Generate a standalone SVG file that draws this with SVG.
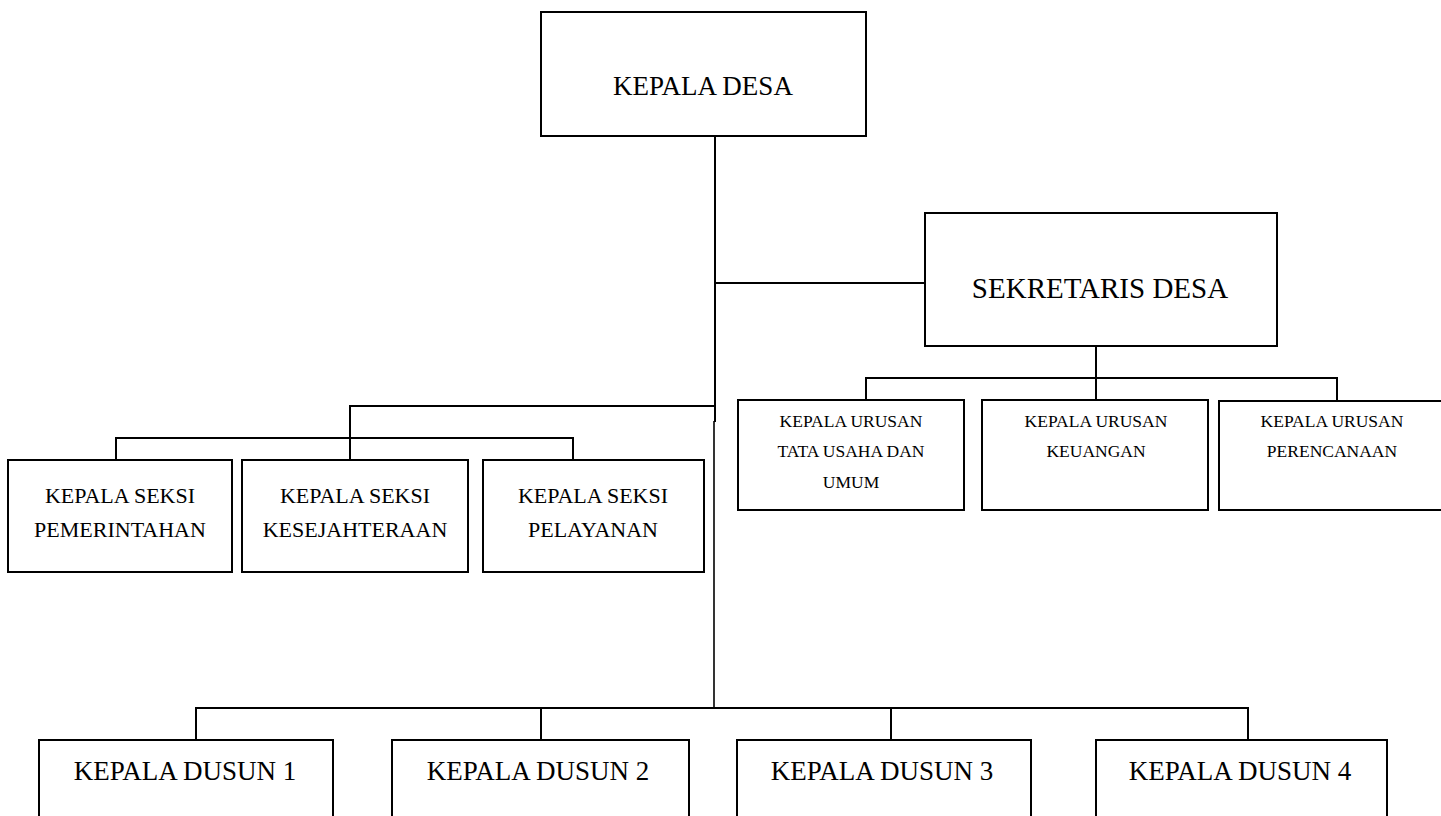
<svg xmlns="http://www.w3.org/2000/svg" width="1441" height="816" viewBox="0 0 1441 816">
<style>
.box{fill:#fff;stroke:#000;stroke-width:2}
.ln{stroke:#000;stroke-width:2;fill:none}
text{font-family:"Liberation Serif","Times New Roman",serif;fill:#000;text-anchor:middle}
.big{font-size:27px}
.mid{font-size:22px}
.sm{font-size:17.5px}
</style>
<rect width="1441" height="816" fill="#fff"/>
<g id="connectors">
<path class="ln" d="M715 136V422"/>
<path class="ln" style="stroke-width:1.6" d="M714 421V708"/>
<path class="ln" d="M715 283H925"/>
<path class="ln" d="M1096 346V400M866 400V378H1337V400"/>
<path class="ln" d="M715 406H350V460M116 460V438H573V460"/>
<path class="ln" d="M196 740V708H1248V740M541 708V740M891 708V740"/>
</g>
<g id="kepala-desa"><rect class="box" x="541" y="12" width="325" height="124"/><text class="big" x="703" y="95">KEPALA DESA</text></g>
<g id="sekretaris-desa"><rect class="box" x="925" y="213" width="352" height="133"/><text x="1100" y="298" style="font-size:29px">SEKRETARIS DESA</text></g>
<g id="kaur-tu"><rect class="box" x="738" y="400" width="226" height="110"/><text class="sm" x="851" y="427">KEPALA URUSAN</text><text class="sm" x="851" y="457">TATA USAHA DAN</text><text class="sm" x="851" y="488">UMUM</text></g>
<g id="kaur-keuangan"><rect class="box" x="982" y="400" width="226" height="110"/><text class="sm" x="1096" y="427">KEPALA URUSAN</text><text class="sm" x="1096" y="457">KEUANGAN</text></g>
<g id="kaur-perencanaan"><rect class="box" x="1219" y="401" width="231" height="109"/><text class="sm" x="1332" y="427">KEPALA URUSAN</text><text class="sm" x="1332" y="457">PERENCANAAN</text></g>
<g id="kasi-pemerintahan"><rect class="box" x="8" y="460" width="224" height="112"/><text class="mid" x="120" y="503">KEPALA SEKSI</text><text class="mid" x="120" y="537">PEMERINTAHAN</text></g>
<g id="kasi-kesejahteraan"><rect class="box" x="242" y="460" width="226" height="112"/><text class="mid" x="355" y="503">KEPALA SEKSI</text><text class="mid" x="355" y="537">KESEJAHTERAAN</text></g>
<g id="kasi-pelayanan"><rect class="box" x="483" y="460" width="221" height="112"/><text class="mid" x="593" y="503">KEPALA SEKSI</text><text class="mid" x="593" y="537">PELAYANAN</text></g>
<g id="dusun-1"><rect class="box" x="39" y="740" width="294" height="100"/><text class="big" x="185" y="780">KEPALA DUSUN 1</text></g>
<g id="dusun-2"><rect class="box" x="392" y="740" width="297" height="100"/><text class="big" x="538" y="780">KEPALA DUSUN 2</text></g>
<g id="dusun-3"><rect class="box" x="737" y="740" width="294" height="100"/><text class="big" x="882" y="780">KEPALA DUSUN 3</text></g>
<g id="dusun-4"><rect class="box" x="1096" y="740" width="291" height="100"/><text class="big" x="1240" y="780">KEPALA DUSUN 4</text></g>
</svg>
